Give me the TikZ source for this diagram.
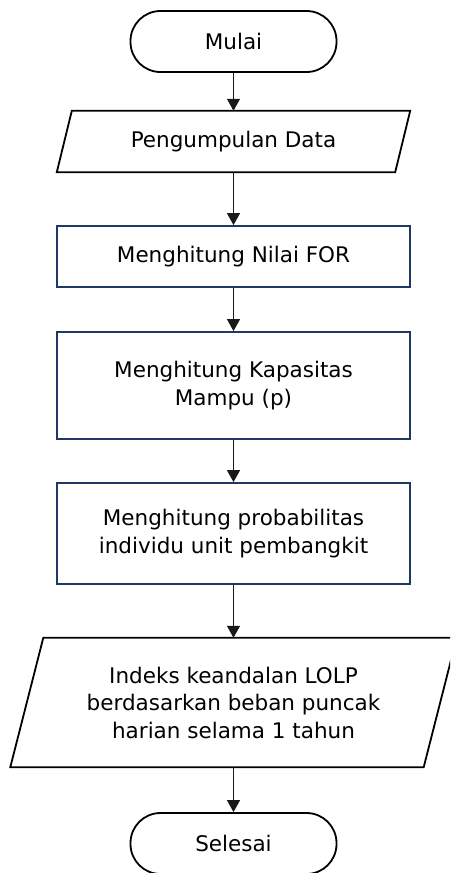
\documentclass[tikz,border=0pt]{standalone}
\usepackage{fontspec}
\setmainfont{DejaVu Sans}
\usetikzlibrary{arrows.meta}
\definecolor{boxblue}{RGB}{31,56,100}
\tikzset{
  txt/.style={align=center,font=\fontsize{21.5}{27.5}\selectfont,inner sep=0pt},
  term/.style={txt,draw=black,line width=1.8pt,rounded corners=30pt,minimum width=206pt,minimum height=61pt},
  procbox/.style={txt,draw=boxblue,line width=1.8pt,minimum width=353pt},
  iobox/.style={txt,minimum width=#1},
  iolines/.style={draw=black,line width=1.8pt,line join=miter},
  flow/.style={draw=black!90,line width=1.2pt,-{Triangle[width=13pt,length=12pt]}}
}
\begin{document}
\begin{tikzpicture}[x=1pt,y=-1pt]
\useasboundingbox (0,0) rectangle (450,873);
\clip (0,0) rectangle (450,873);
\fill[white] (0,0) rectangle (450,873);

\node[term] (mulai) at (233.5,41.5) {Mulai};
\node[iobox=338pt,minimum height=61pt] (data) at (233.5,141.5) {Pengumpulan Data};
\draw[iolines] ([xshift=7.5pt]data.north west) -- ([xshift=7.5pt]data.north east)
  -- ([xshift=-7.5pt]data.south east) -- ([xshift=-7.5pt]data.south west) -- cycle;
\node[procbox,minimum height=61pt] (for) at (233.5,256.5) {Menghitung Nilai FOR};
\node[procbox,minimum height=107pt] (kap) at (233.5,385.5) {Menghitung Kapasitas\\Mampu (p)};
\node[procbox,minimum height=101pt] (prob) at (233.5,533.5) {Menghitung probabilitas\\individu unit pembangkit};
\node[iobox=413pt,minimum height=129pt] (lolp) at (233.5,702.5) {Indeks keandalan LOLP\\berdasarkan beban puncak\\harian selama 1 tahun};
\draw[iolines] ([xshift=16.5pt]lolp.north west) -- ([xshift=16.5pt]lolp.north east)
  -- ([xshift=-16.5pt]lolp.south east) -- ([xshift=-16.5pt]lolp.south west) -- cycle;
\node[term] (selesai) at (233.5,843.5) {Selesai};

\draw[flow] (mulai.south) -- (data.north);
\draw[flow] (data.south) -- (for.north);
\draw[flow] (for.south) -- (kap.north);
\draw[flow] (kap.south) -- (prob.north);
\draw[flow] (prob.south) -- (lolp.north);
\draw[flow] (lolp.south) -- (selesai.north);
\end{tikzpicture}
\end{document}
